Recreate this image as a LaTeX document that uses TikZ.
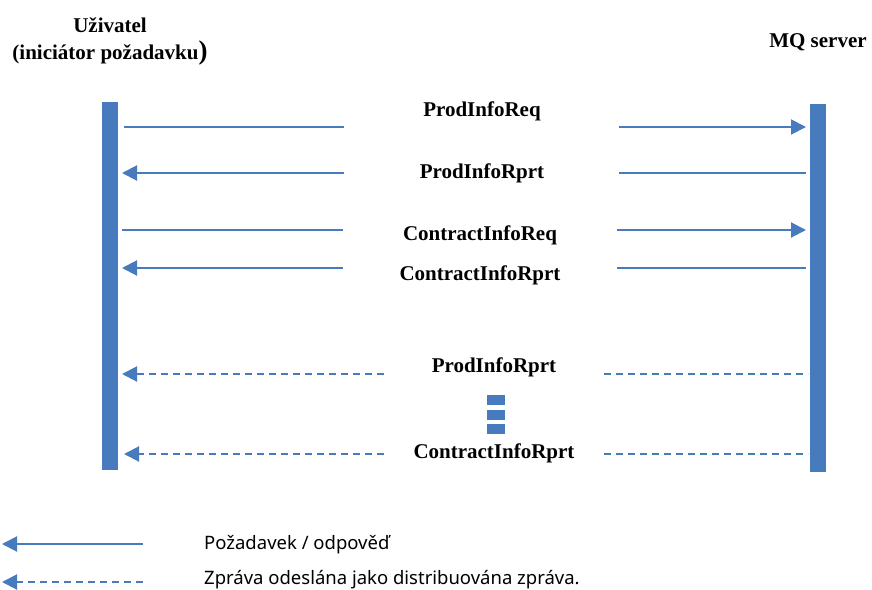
\documentclass[tikz,border=0pt]{standalone}
\usepackage{fontspec}
\setmainfont{Liberation Serif}
\newfontfamily\legendfont{Noto Sans}
\usetikzlibrary{arrows.meta}
\definecolor{mqblue}{RGB}{72,122,190}
\tikzset{
  bar/.style={fill=mqblue, draw=none, inner sep=0pt},
  msg/.style={draw=mqblue, line width=2pt},
  msgdash/.style={msg, dash pattern=on 7pt off 5pt},
  tip/.style={-{Triangle[length=15pt,width=15pt]}},
  lbl/.style={font=\fontsize{21}{21}\selectfont\bfseries, anchor=base, inner sep=0pt},
  leg/.style={font=\legendfont\fontsize{18.5}{18.5}\selectfont, anchor=base west, inner sep=0pt},
  dotbox/.style={fill=mqblue, draw=none, inner sep=0pt, minimum width=18pt, minimum height=10pt}
}
\begin{document}
\begin{tikzpicture}[x=1pt,y=-1pt]
\useasboundingbox (0,0) rectangle (872,589);
% titles
\node[lbl] (t1) at (110,32) {Uživatel};
\node[lbl] (t2) at (110,59) {(iniciátor požadavku{\fontsize{27}{27}\selectfont)}};
\node[lbl] (t3) at (818,47) {MQ server};
% bars
\path[bar] (102,102) rectangle (118,470);
\path[bar] (810,104) rectangle (826,472);
% labels
\node[lbl] (l1) at (482,116) {ProdInfoReq};
\node[lbl] (l2) at (482,178) {ProdInfoRprt};
\node[lbl] (l3) at (480,240) {ContractInfoReq};
\node[lbl] (l4) at (480,280) {ContractInfoRprt};
\node[lbl] (l5) at (494,372) {ProdInfoRprt};
\node[lbl] (l6) at (494,458) {ContractInfoRprt};
% coordinates
\coordinate (a1) at (124,127); \coordinate (b1) at (344,127);
\coordinate (c1) at (619,127); \coordinate (d1) at (806,127);
\coordinate (a2) at (122,173); \coordinate (b2) at (344,173);
\coordinate (c2) at (619,173); \coordinate (d2) at (806,173);
\coordinate (a3) at (122,230); \coordinate (b3) at (343,230);
\coordinate (c3) at (617,230); \coordinate (d3) at (806,230);
\coordinate (a4) at (122,268); \coordinate (b4) at (343,268);
\coordinate (c4) at (617,268); \coordinate (d4) at (806,268);
\coordinate (a5) at (122,374); \coordinate (b5) at (384,374);
\coordinate (c5) at (604,374); \coordinate (d5) at (808,374);
\coordinate (a6) at (124,454); \coordinate (b6) at (384,454);
\coordinate (c6) at (604,454); \coordinate (d6) at (808,454);
% messages
\draw[msg] (a1) -- (b1);
\draw[msg,tip] (c1) -- (d1);
\draw[msg,tip] (b2) -- (a2);
\draw[msg] (c2) -- (d2);
\draw[msg] (a3) -- (b3);
\draw[msg,tip] (c3) -- (d3);
\draw[msg,tip] (b4) -- (a4);
\draw[msg] (c4) -- (d4);
\draw[msgdash,tip] (b5) -- (a5);
\draw[msgdash] (c5) -- (d5);
\draw[msgdash,tip] (b6) -- (a6);
\draw[msgdash] (c6) -- (d6);
% ellipsis blocks
\node[dotbox] (s1) at (496,400) {};
\node[dotbox] (s2) at (496,415) {};
\node[dotbox] (s3) at (496,429) {};
% legend
\coordinate (la) at (2,544); \coordinate (lb) at (143,544);
\coordinate (lc) at (2,582); \coordinate (ld) at (143,582);
\draw[msg,tip] (lb) -- (la);
\draw[msgdash,tip] (ld) -- (lc);
\node[leg] (g1) at (204,549) {Požadavek / odpověď};
\node[leg] (g2) at (204,584) {Zpráva odeslána jako distribuována zpráva.};
\end{tikzpicture}
\end{document}
